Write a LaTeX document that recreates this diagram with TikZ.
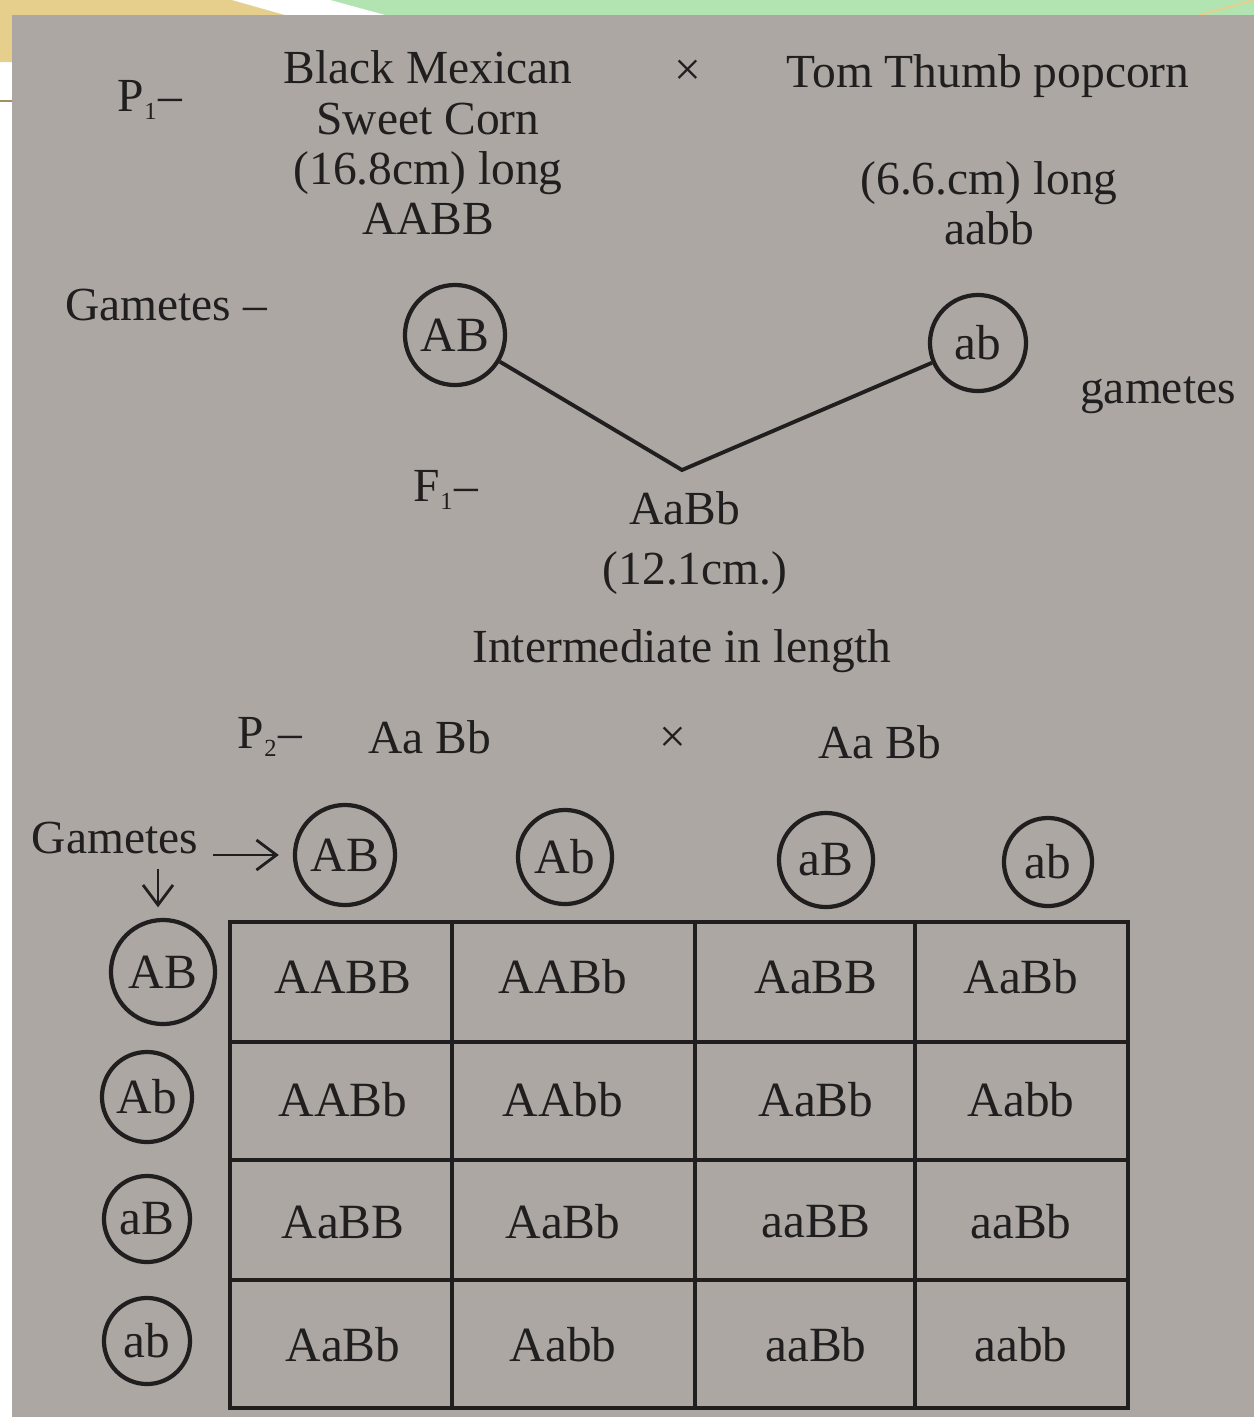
\documentclass[tikz,border=0pt]{standalone}
\usepackage{fontspec}
\setmainfont{Liberation Serif}
\usetikzlibrary{positioning,arrows.meta,calc}
\definecolor{cPage}{RGB}{172,167,163}
\definecolor{cBand}{RGB}{178,228,178}
\definecolor{cWedge}{RGB}{230,206,140}
\definecolor{cInk}{RGB}{32,30,30}

\begin{document}
\begin{tikzpicture}[x=0.01cm,y=-0.01cm,
   txt/.style={inner sep=0pt,text=cInk,font=\fontsize{13.5}{14.3}\selectfont},
   cell/.style={inner sep=0pt,text=cInk,font=\fontsize{14}{16}\selectfont},
   gam/.style={draw=cInk,circle,line width=1.2pt,minimum size=9.4mm,inner sep=0pt,text=cInk,font=\fontsize{14}{16}\selectfont},
   arr/.style={-{Straight Barb[length=2mm,width=3mm]},line width=0.8pt,draw=cInk}]
  \useasboundingbox (0,0) rectangle (1254,1417);
  % slide frame and page
  \fill[white] (0,0) rectangle (1254,1417);
  \fill[cBand] (0,0) rectangle (1254,15);
  \fill[cWedge] (0,0) -- (232,0) -- (285,15) -- (12,15) -- (12,62) -- (0,62) -- cycle;
  \fill[white] (232,0) -- (330,0) -- (385,15) -- (285,15) -- cycle;
  \draw[cWedge,line width=0.6pt] (1200,15) -- (1254,0);
  \draw[cWedge!70!black,line width=0.5pt] (0,101) -- (12,101);
  \fill[cPage] (12,15) rectangle (1254,1417);
  % parents
  \node[txt] (p1) at (150,100) {P\textsubscript{\scriptsize 1}–};
  \node[txt,align=center] (bmsc) at (428,143) {Black Mexican\\Sweet Corn\\(16.8cm) long\\AABB};
  \node[txt] (x1) at (688,73) {×};
  \node[txt] (ttp) at (988,76) {Tom Thumb popcorn};
  \node[txt,align=center] (ttpg) at (989,203) {(6.6.cm) long\\aabb};
  % gametes and F1
  \node[txt] (gam1) at (166,305) {Gametes –};
  \node[gam,minimum size=10mm] (pAB) at (455,335) {AB};
  \node[gam,minimum size=9.6mm] (pab) at (978,343) {ab};
  \node[txt] (gam2) at (1158,395) {gametes};
  \coordinate (apex) at (682,470);
  \draw[cInk,line width=1.1pt] (pAB) -- (apex) -- (pab);
  \node[txt] (f1) at (446,490) {F\textsubscript{\scriptsize 1}–};
  \node[txt] (f1g) at (685,508) {AaBb};
  \node[txt] (f1l) at (695,573) {(12.1cm.)};
  \node[txt] (f1t) at (682,651) {Intermediate in length};
  % F1 selfing
  \node[txt] (p2) at (270,737) {P\textsubscript{\scriptsize 2}–};
  \node[txt] (p2a) at (430,737) {Aa Bb};
  \node[txt] (x2) at (673,740) {×};
  \node[txt] (p2b) at (880,742) {Aa Bb};
  \node[txt] (gamL) at (115,838) {Gametes};
  \foreach \n/\x/\y/\s in {AB/345/855/10,Ab/565/857/9.4,aB/826/860/9.4,ab/1048/862/8.8}
    \node[gam,minimum size=\s mm] (c\n) at (\x,\y) {\n};
  \foreach \n/\x/\y/\s in {AB/163/972/10.4,Ab/147/1097/9,aB/147/1219/8.6,ab/147/1341/8.6}
    \node[gam,minimum size=\s mm] (r\n) at (\x,\y) {\n};
  \draw[arr] ([xshift=4pt]gamL.east |- cAB) -- ([xshift=-4pt]cAB.west);
  \draw[arr] ($(gamL.south -| rAB.north)+(-5,-4pt)$) -- ($(rAB.north)+(-5,3pt)$);
  % checkerboard
  \draw[cInk,line width=1.2pt] (230,922) rectangle (1128,1408);
  \foreach \x in {452,695,915}
    \draw[cInk,line width=1.2pt] (\x,922) -- (\x,1408);
  \foreach \y in {1042,1160,1280}
    \draw[cInk,line width=1.2pt] (230,\y) -- (1128,\y);
  \foreach \y/\a/\b/\c/\d [count=\i] in {977/AABB/AABb/AaBB/AaBb,1100/AABb/AAbb/AaBb/Aabb,1222/AaBB/AaBb/aaBB/aaBb,1345/AaBb/Aabb/aaBb/aabb}{
    \node[cell] (k\i-1) at (343,\y) {\a};
    \node[cell] (k\i-2) at (563,\y) {\b};
    \node[cell] (k\i-3) at (816,\y) {\c};
    \node[cell] (k\i-4) at (1021,\y) {\d};
  }
\end{tikzpicture}
\end{document}
